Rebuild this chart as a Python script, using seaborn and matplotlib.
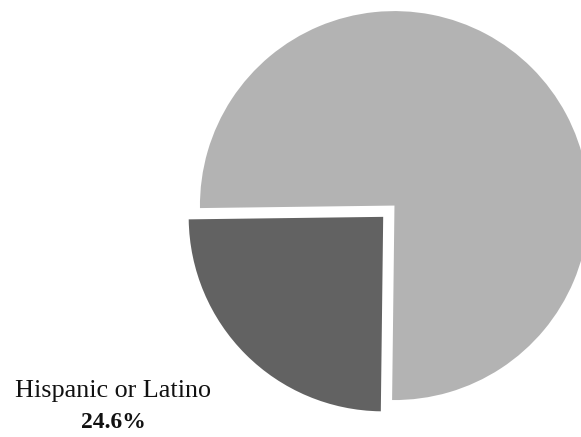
import matplotlib
matplotlib.use("Agg")
import matplotlib.pyplot as plt
import seaborn as sns

sns.set_theme(style="white")
plt.rcParams['font.family'] = ['Liberation Serif', 'DejaVu Serif']

categories = ["Not Hispanic or Latino", "Hispanic or Latino"]
shares = [75.4, 24.6]
colors = ["#b3b3b3", "#626262"]
explode = [0.0, 0.082]

fig = plt.figure(figsize=(5.81, 4.37), dpi=100)
ax = fig.add_axes([0, 0, 1, 1])
ax.pie(shares, colors=colors, explode=explode, startangle=-90.7,
       counterclock=True, radius=1.0, wedgeprops=dict(linewidth=0))
ax.set_xlim(-2.028, 0.959)
ax.set_ylim(-1.190, 1.057)
ax.set_aspect('auto')
ax.axis('off')

ax.text(-1.447, -0.955, categories[1], ha='center', va='center',
        fontsize=18.8, color='#111111')
ax.text(-1.447, -1.118, f"{shares[1]:.1f}%", ha='center', va='center',
        fontsize=17, fontweight='bold', color='#111111')

fig.savefig("out.png", dpi=100)
